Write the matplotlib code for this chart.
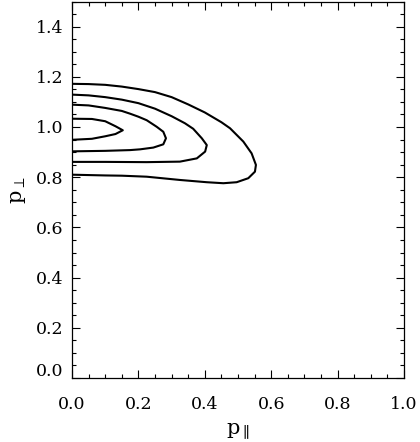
import matplotlib
matplotlib.use("Agg")
import matplotlib.pyplot as plt
from matplotlib.ticker import MultipleLocator

plt.rcParams['font.family'] = ['DejaVu Serif']
plt.rcParams['mathtext.fontset'] = 'dejavuserif'

# Contour level 1 (outermost)
c1_x = [0, 0.05, 0.10, 0.15, 0.20, 0.25, 0.30, 0.35, 0.40, 0.45, 0.476, 0.516, 0.541,
        0.554, 0.551, 0.531, 0.496, 0.456, 0.406, 0.325, 0.225, 0.15, 0.10, 0]
c1_y = [1.172, 1.171, 1.168, 1.161, 1.151, 1.139, 1.119, 1.090, 1.058, 1.019, 0.995, 0.942,
        0.895, 0.849, 0.822, 0.796, 0.780, 0.776, 0.780, 0.789, 0.802, 0.806, 0.807, 0.810]
# Contour level 2
c2_x = [0, 0.05, 0.10, 0.15, 0.20, 0.25, 0.30, 0.34, 0.365, 0.391, 0.406, 0.401,
        0.376, 0.325, 0.225, 0.10, 0]
c2_y = [1.129, 1.126, 1.119, 1.109, 1.095, 1.073, 1.043, 1.015, 0.993, 0.955, 0.928, 0.902,
        0.875, 0.862, 0.860, 0.861, 0.861]
# Contour level 3
c3_x = [0, 0.05, 0.10, 0.15, 0.175, 0.20, 0.225, 0.255, 0.275, 0.283, 0.275, 0.245, 0.205,
        0.175, 0.10, 0]
c3_y = [1.089, 1.086, 1.076, 1.064, 1.053, 1.041, 1.027, 1.001, 0.981, 0.955, 0.931, 0.918,
        0.911, 0.908, 0.905, 0.903]
# Contour level 4 (innermost)
c4_x = [0, 0.06, 0.10, 0.131, 0.153, 0.131, 0.10, 0.06, 0]
c4_y = [1.033, 1.032, 1.023, 1.003, 0.987, 0.972, 0.963, 0.953, 0.949]

contours = [(c1_x, c1_y), (c2_x, c2_y), (c3_x, c3_y), (c4_x, c4_y)]

fig = plt.figure(figsize=(4.2, 4.42), dpi=100)
ax = fig.add_axes([72/420, 1 - 378/442, 332/420, 376.5/442])

for cx, cy in contours:
    ax.plot(cx, cy, color='black', lw=1.5, solid_joinstyle='round')

ax.set_xlim(0, 1.0)
ax.set_ylim(0, 1.5)
ax.xaxis.set_major_locator(MultipleLocator(0.2))
ax.xaxis.set_minor_locator(MultipleLocator(0.05))
ax.yaxis.set_major_locator(MultipleLocator(0.2))
ax.yaxis.set_minor_locator(MultipleLocator(0.05))
ax.xaxis.set_major_formatter(plt.FuncFormatter(lambda v, p: f"{v:.1f}"))
# the bottom y label is drawn separately, slightly raised as in the reference
ax.yaxis.set_major_formatter(plt.FuncFormatter(lambda v, p: "" if abs(v) < 1e-9 else f"{v:.1f}"))

ax.tick_params(which='both', direction='in', top=True, right=True, width=0.8)
ax.tick_params(which='major', length=5.5, labelsize=12.5)
ax.tick_params(which='minor', length=2.8)
ax.tick_params(axis='x', which='major', pad=13)
ax.tick_params(axis='y', which='major', pad=6)
for s in ax.spines.values():
    s.set_linewidth(0.9)

ax.annotate("0.0", xy=(0, 0), xycoords='data', xytext=(-6, 5), textcoords='offset points',
            ha='right', va='center', fontsize=12.5, annotation_clip=False)

ax.set_xlabel(r'$\mathrm{p}_{\parallel}$', fontsize=15, labelpad=6)
ax.set_ylabel(r'$\mathrm{p}_{\perp}$', fontsize=15, labelpad=6)

fig.savefig('out.png', dpi=100)
